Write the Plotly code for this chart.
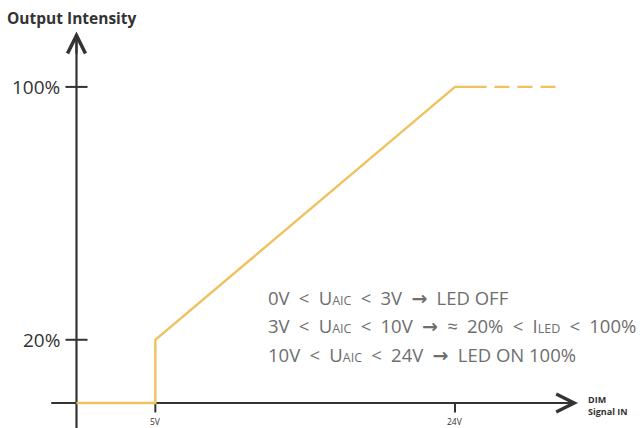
import plotly.graph_objects as go

# Data
voltage_solid = [0, 5, 5, 24, 26]
intensity_solid = [0, 0, 20, 100, 100]
voltage_dashed = [26.5, 30.5]
intensity_dashed = [100, 100]

y_ticks = [20, 100]
y_tick_labels = ["20%", "100%"]
x_ticks = [5, 24]
x_tick_labels = ["5V", "24V"]

SP = "\u2002"
SUB = "<span style='font-size:12.5px'>{}</span>"
ARR = "<span style='font-family:DejaVu Sans;font-size:19px'><b>→</b></span>"
notes = [
    SP.join(["0V", "<", "U" + SUB.format("AIC"), "<", "3V", ARR, "LED OFF"]),
    SP.join(["3V", "<", "U" + SUB.format("AIC"), "<", "10V", ARR, "≈", "20%", "<",
             "I" + SUB.format("LED"), "<", "100%"]),
    SP.join(["10V", "<", "U" + SUB.format("AIC"), "<", "24V", ARR, "LED ON 100%"]),
]
note_y = [33.5, 24.5, 15.5]

LINE = "#EFC25E"
AX = "#333333"
W, H = 643, 428
X0, X1 = -4.85, 35.92
Y0, Y1 = -7.91, 127.5

fig = go.Figure()
fig.add_trace(go.Scatter(x=voltage_solid, y=intensity_solid, mode="lines",
                         line=dict(color=LINE, width=2.4), hoverinfo="skip"))
fig.add_trace(go.Scatter(x=voltage_dashed, y=intensity_dashed, mode="lines",
                         line=dict(color=LINE, width=2.4, dash="15px,8px"), hoverinfo="skip"))

shapes = []
# axis lines (below the data line)
shapes.append(dict(type="line", xref="x", yref="y", x0=-1.6, x1=31.0, y0=0, y1=0,
                   line=dict(color=AX, width=2.2), layer="below"))
shapes.append(dict(type="line", xref="x", yref="y", x0=0, x1=0, y0=Y0, y1=116.0,
                   line=dict(color=AX, width=2.2), layer="below"))
# tick marks
for t in y_ticks:
    shapes.append(dict(type="line", xref="x", yref="y", x0=-0.7, x1=0.7, y0=t, y1=t,
                       line=dict(color=AX, width=2), layer="below"))
for t in x_ticks:
    shapes.append(dict(type="line", xref="x", yref="y", x0=t, x1=t, y0=0, y1=-3,
                       line=dict(color=AX, width=2), layer="below"))

annotations = []
# arrow heads
annotations.append(dict(x=0, y=117.5, ax=0, ay=110, xref="x", yref="y", axref="x", ayref="y",
                        showarrow=True, arrowhead=5, arrowsize=1.6, arrowwidth=2.2, arrowcolor=AX, text=""))
annotations.append(dict(x=31.8, y=0, ax=29.5, ay=0, xref="x", yref="y", axref="x", ayref="y",
                        showarrow=True, arrowhead=5, arrowsize=1.6, arrowwidth=2.2, arrowcolor=AX, text=""))

for t, lab in zip(y_ticks, y_tick_labels):
    annotations.append(dict(x=-0.95, y=t, xref="x", yref="y", text=lab, showarrow=False,
                            xanchor="right", yanchor="middle",
                            font=dict(family="Open Sans", size=19, color=AX)))
for t, lab in zip(x_ticks, x_tick_labels):
    annotations.append(dict(x=t, y=-3.4, xref="x", yref="y", text=lab, showarrow=False,
                            xanchor="center", yanchor="top",
                            font=dict(family="Open Sans", size=8.5, color=AX)))

annotations.append(dict(x=5 / W, y=1 - 18 / H, xref="paper", yref="paper", text="<b>Output Intensity</b>",
                        showarrow=False, xanchor="left", yanchor="middle",
                        font=dict(family="Open Sans", size=15.5, color=AX)))
annotations.append(dict(x=586 / W, y=1 - 405 / H, xref="paper", yref="paper", text="<b>DIM<br>Signal IN</b>",
                        showarrow=False, xanchor="left", yanchor="middle", align="left",
                        font=dict(family="Open Sans", size=9, color=AX)))

for txt, yy in zip(notes, note_y):
    annotations.append(dict(x=12.0, y=yy, xref="x", yref="y", text=txt, showarrow=False,
                            xanchor="left", yanchor="middle", align="left",
                            font=dict(family="Open Sans", size=18.5, color="#6e6e6e")))

fig.update_layout(
    width=W, height=H, margin=dict(l=0, r=0, t=0, b=0),
    paper_bgcolor="white", plot_bgcolor="white", showlegend=False,
    xaxis=dict(range=[X0, X1], visible=False, fixedrange=True),
    yaxis=dict(range=[Y0, Y1], visible=False, fixedrange=True),
    shapes=shapes, annotations=annotations,
)
fig.write_html("out.html", config={"displayModeBar": False},
               post_script="document.body.style.margin='0';document.body.style.overflow='hidden';")
